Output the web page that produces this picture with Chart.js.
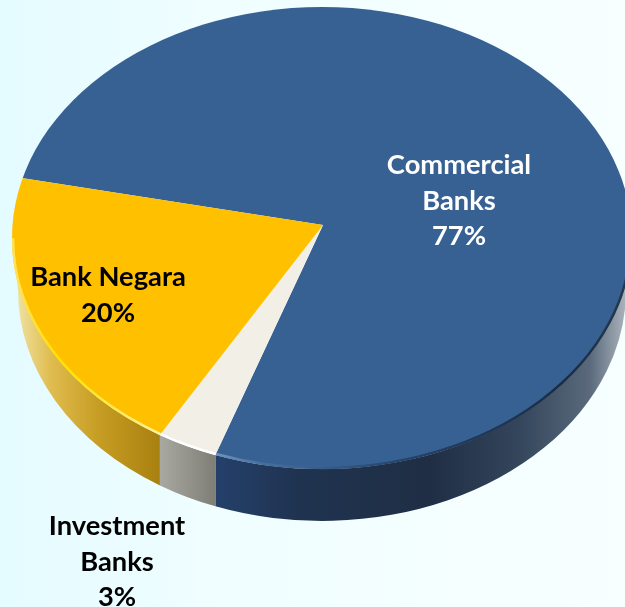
<!DOCTYPE html>
<html>
<head>
<meta charset="utf-8">
<script src="https://cdn.jsdelivr.net/npm/chart.js@4"></script>
<style>
html,body{margin:0;padding:0;width:625px;height:607px;overflow:hidden;background:linear-gradient(to right,#e4fbff 0%,#f0feff 35%,#f7ffff 100%);}
canvas{display:block;}
</style>
</head>
<body>
<canvas id="c" width="625" height="607"></canvas>
<script>
const categories = ["Commercial Banks", "Investment Banks", "Bank Negara"];
const shareValues = [77, 3, 20];
const faceColors = ["#386193", "#f2efe6", "#ffc000"];
const labelLines = [["Commercial", "Banks", "77%"], ["Investment", "Banks", "3%"], ["Bank Negara", "20%"]];

// Look of the tilted disc
const APEX = {x: 323, y: 225};
const STRETCH = {x: 350, y: 259};
const TOP = {x: 322, y: 238, rx: 310, ry: 231};
const BOTTOM = {x: 322, y: 290, rx: 304, ry: 231};
const wallStops = [
  [[216,"#24406a"],[300,"#1f3350"],[430,"#1f2e44"],[520,"#34465c"],[590,"#5a6a7c"],[628,"#b0b8c0"]],
  [[161,"#a8a8a0"],[216,"#7e7e76"]],
  [[15,"#f0e4a8"],[50,"#e0bd50"],[100,"#c69c22"],[161,"#a88010"]]
];
const rimStops = [
  [[216,"#6f94c0"],[260,"#47709f"],[400,"#26436a"],[560,"#1a2c44"],[628,"#27394f"]],
  [[161,"#ffffff"],[216,"#ffffff"]],
  [[15,"#ffe25a"],[60,"#ffe000"],[161,"#fff2a0"]]
];
const labelPlaces = [{x:459,y:165,color:"#ffffff"},{x:117,y:526,color:"#000000"},{x:108,y:277,color:"#000000"}];
const LINE_STEP = 35.7;

function rayToEdge(angle){
  const dx = STRETCH.x*Math.cos(angle), dy = STRETCH.y*Math.sin(angle);
  const px = (APEX.x-TOP.x)/TOP.rx, py = (APEX.y-TOP.y)/TOP.ry;
  const qx = dx/TOP.rx, qy = dy/TOP.ry;
  const a = qx*qx+qy*qy, b = 2*(px*qx+py*qy), c = px*px+py*py-1;
  const s = (-b+Math.sqrt(b*b-4*a*c))/(2*a);
  return Math.atan2(py+qy*s, px+qx*s);
}
function gradient(ctx, stops){
  const x0 = stops[0][0], x1 = stops[stops.length-1][0];
  const g = ctx.createLinearGradient(x0,0,x1,0);
  stops.forEach(s => g.addColorStop((s[0]-x0)/(x1-x0), s[1]));
  return g;
}
function sliceSpans(el){
  const two = Math.PI*2;
  let t0 = rayToEdge(el.startAngle), t1 = rayToEdge(el.endAngle);
  t0 = (t0+two)%two; t1 = (t1+two)%two;
  if (t1<=t0) t1 += two;
  const out = [];
  for (let k=0;k<2;k++){
    const lo = Math.max(t0, two*k), hi = Math.min(t1, Math.PI+two*k);
    if (hi>lo) out.push([lo,hi]);
  }
  return out;
}
function bottomParam(t){
  const x = TOP.x+TOP.rx*Math.cos(t);
  const c = Math.max(-1,Math.min(1,(x-BOTTOM.x)/BOTTOM.rx));
  return Math.acos(c);
}

const disc3d = {
  id:"disc3d",
  beforeDatasetsDraw(chart){
    const ctx = chart.ctx, meta = chart.getDatasetMeta(0);
    meta.data.forEach((el,i)=>{
      sliceSpans(el).forEach(([lo,hi])=>{
        const two = Math.PI*2;
        const a = ((lo%two)+two)%two, b = a+(hi-lo);
        ctx.beginPath();
        ctx.ellipse(TOP.x,TOP.y,TOP.rx,TOP.ry,0,a,b,false);
        ctx.ellipse(BOTTOM.x,BOTTOM.y,BOTTOM.rx,BOTTOM.ry,0,bottomParam(b),bottomParam(a),true);
        ctx.closePath();
        ctx.fillStyle = gradient(ctx,wallStops[i]);
        ctx.fill();
      });
    });
    const first = meta.data[0];
    const R = first.outerRadius;
    ctx.save();
    ctx.beginPath();
    ctx.ellipse(TOP.x,TOP.y,TOP.rx,TOP.ry,0,0,Math.PI*2);
    ctx.clip();
    ctx.translate(APEX.x,APEX.y);
    ctx.scale(STRETCH.x/R,STRETCH.y/R);
    ctx.translate(-first.x,-first.y);
  },
  afterDatasetsDraw(chart){
    const ctx = chart.ctx, meta = chart.getDatasetMeta(0);
    ctx.restore();
    meta.data.forEach((el,i)=>{
      sliceSpans(el).forEach(([lo,hi])=>{
        const two = Math.PI*2;
        const a = ((lo%two)+two)%two;
        ctx.beginPath();
        ctx.ellipse(TOP.x,TOP.y,TOP.rx-1,TOP.ry-1,0,a,a+(hi-lo),false);
        ctx.strokeStyle = gradient(ctx,rimStops[i]);
        ctx.lineWidth = 2.5;
        ctx.stroke();
      });
    });
    ctx.save();
    ctx.font = 'bold 27.3px Lato, "Open Sans", sans-serif';
    ctx.textAlign = "center";
    ctx.textBaseline = "middle";
    labelLines.forEach((lines,i)=>{
      const p = labelPlaces[i];
      ctx.fillStyle = p.color;
      lines.forEach((t,j)=>ctx.fillText(t,p.x,p.y+j*LINE_STEP));
    });
    ctx.restore();
  }
};

new Chart(document.getElementById("c"),{
  type:"pie",
  data:{labels:categories,datasets:[{data:shareValues,backgroundColor:faceColors,borderWidth:0,clip:false}]},
  options:{
    responsive:false,
    animation:false,
    rotation:281.9,
    layout:{padding:0},
    plugins:{legend:{display:false},tooltip:{enabled:false}}
  },
  plugins:[disc3d]
});
</script>
</body>
</html>
